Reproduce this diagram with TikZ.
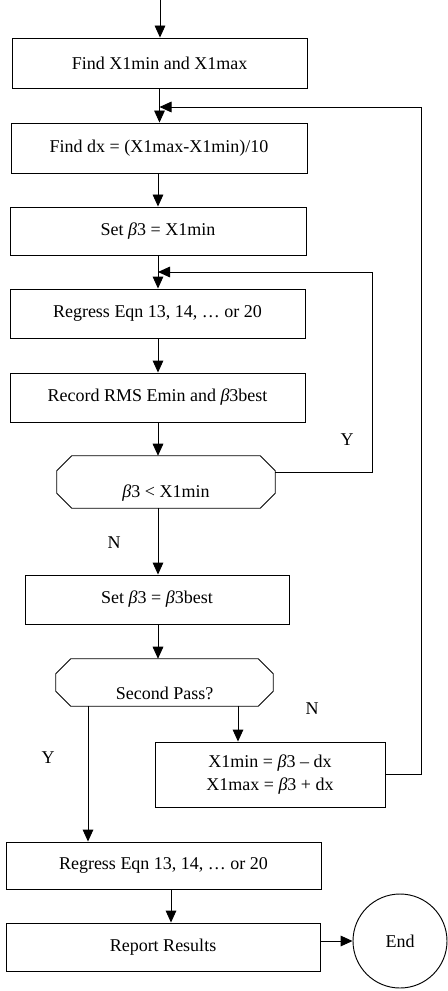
\documentclass[tikz,border=0pt]{standalone}
\usepackage{fontspec}
\setmainfont{Liberation Serif}
\usetikzlibrary{arrows.meta,calc}
\newcommand\octdraw[1]{\draw[ln] ([xshift=11.25pt]#1.north west) -- ([xshift=-11.25pt]#1.north east) -- ([yshift=-11.25pt]#1.north east) -- ([yshift=11.25pt]#1.south east) -- ([xshift=-11.25pt]#1.south east) -- ([xshift=11.25pt]#1.south west) -- ([yshift=11.25pt]#1.south west) -- ([yshift=-11.25pt]#1.north west) -- cycle;}
\begin{document}
\begin{tikzpicture}[x=0.75pt,y=-0.75pt,
  every node/.style={font=\fontsize{13.5}{17}\selectfont},
  box/.style={draw, line width=0.7pt, rectangle, inner sep=0pt, align=center},
  decbox/.style={inner sep=0pt, rectangle},
  ln/.style={line width=0.7pt},
  arr/.style={line width=0.7pt, -{Triangle[width=8pt,length=9pt]}},
  lbl/.style={inner sep=0pt}]
\useasboundingbox (0,0) rectangle (448,991);

\node[box, minimum width=221.25pt, minimum height=37.5pt] (b1) at (159.5,63) {Find X1min and X1max};
\node[box, minimum width=222pt, minimum height=37.5pt] (b2) at (159,148) {Find dx = (X1max-X1min)/10};
\node[box, minimum width=222pt, minimum height=36pt] (b3) at (158,231) {Set \textit{β}3 = X1min};
\node[box, minimum width=221.25pt, minimum height=36.75pt] (b4) at (157.5,313.5) {Regress Eqn 13, 14, … or 20};
\node[box, minimum width=221.25pt, minimum height=36.75pt] (b5) at (157.5,397.5) {Record RMS Emin and \textit{β}3best};
\node[decbox, minimum width=163.5pt, minimum height=39pt] (d1) at (166,482) {};
\octdraw{d1}
\node[lbl] (d1t) at (166,493) {\textit{β}3 < X1min};
\node[box, minimum width=198pt, minimum height=36.75pt] (b6) at (157,599.5) {Set \textit{β}3 = \textit{β}3best};
\node[decbox, minimum width=162.75pt, minimum height=35.25pt] (d2) at (164.5,682.5) {};
\octdraw{d2}
\node[lbl] (d2t) at (164.5,693) {Second Pass?};
\node[box, minimum width=172.5pt, minimum height=48.75pt] (b7) at (270,774.5) {X1min = \textit{β}3 – dx\\X1max = \textit{β}3 + dx};
\node[box, minimum width=236.25pt, minimum height=35.25pt] (b8) at (163.5,865.5) {Regress Eqn 13, 14, … or 20};
\node[box, minimum width=235.5pt, minimum height=36pt] (b9) at (163,947) {Report Results};
\node[draw, line width=0.7pt, circle, minimum size=70.5pt, inner sep=0pt] (end) at (400,941) {End};

\coordinate (top) at (160,0);
\coordinate (m) at (158,0);
\coordinate (j1) at (159.5,107);
\coordinate (j2) at (158,272);
\coordinate (yx) at (88,0);
\coordinate (nx) at (238,0);
\coordinate (rx) at (171,0);

\draw[arr] (top) -- (top |- b1.north);
\draw[arr] (b1.south) -- (b1.south |- b2.north);
\draw[arr] (b2.south -| m) -- (b3.north -| m);
\draw[arr] (b3.south -| m) -- (b4.north -| m);
\draw[arr] (b4.south -| m) -- (b5.north -| m);
\draw[arr] (b5.south -| m) -- (d1.north -| m);
\draw[arr] (d1.south -| m) -- (b6.north -| m);
\draw[arr] (b6.south -| m) -- (d2.north -| m);
\draw[arr] (d2.south -| yx) -- (b8.north -| yx);
\draw[arr] (d2.south -| nx) -- (b7.north -| nx);
\draw[arr] (b8.south -| rx) -- (b9.north -| rx);
\draw[arr] (end.west -| b9.east) -- (end.west);
\draw[arr] ([yshift=7.5pt]d1.east) -| (372,272) -- (j2);
\draw[arr] (b7.east) -| (421,107) -- (j1);

\node[lbl] (ly1) at (347,440) {Y};
\node[lbl] (ln1) at (114,543) {N};
\node[lbl] (ln2) at (312,709) {N};
\node[lbl] (ly2) at (48,758) {Y};
\end{tikzpicture}
\end{document}
